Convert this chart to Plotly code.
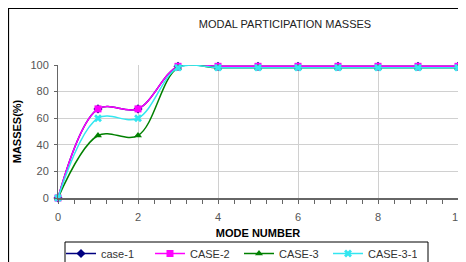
import plotly.graph_objects as go

modes = [0, 1, 2, 3, 4, 5, 6, 7, 8, 9, 10]
case_1 = [0, 67, 67, 99, 99, 99, 99, 99, 99, 99, 99]
case_2 = [0, 67, 67, 99, 99, 99, 99, 99, 99, 99, 99]
case_3 = [0, 47, 47, 98, 98, 98, 98, 98, 98, 98, 98]
case_3_1 = [0, 60, 60, 98, 98, 98, 98, 98, 98, 98, 98]

series = [
    ("case-1", case_1, "#000080", "diamond"),
    ("CASE-2", case_2, "#FF00FF", "square"),
    ("CASE-3", case_3, "#008000", "triangle-up"),
    ("CASE-3-1", case_3_1, "#33E6F0", "x"),
]

fig = go.Figure()
for name, vals, color, sym in series:
    fig.add_trace(go.Scatter(
        x=modes, y=vals, name=name, mode="lines+markers",
        line=dict(color=color, width=1.5, shape="spline", smoothing=1.0),
        marker=dict(symbol=sym, size=7, color=color),
        cliponaxis=False,
    ))

# page body has an 8px margin: figure coordinates = screen - 8
W, H = 458, 254
L, R, T, B = 50, 8, 57, 64
pw, ph = W - L - R, H - T - B

fig.update_layout(
    width=W, height=H,
    margin=dict(l=L, r=R, t=T, b=B, autoexpand=False),
    paper_bgcolor="white", plot_bgcolor="white",
    font=dict(family="Liberation Sans, Arial, sans-serif", size=11, color="#444"),
    title=dict(text="MODAL PARTICIPATION MASSES", x=277 / W, xanchor="center",
               y=1 - 16 / H, yanchor="middle",
               font=dict(size=11, color="#222")),
    xaxis=dict(range=[0, 10], dtick=2, tick0=0, showgrid=True, gridcolor="#d0d0d0",
               zeroline=False, showline=True, linecolor="#666", linewidth=2,
               ticks="outside", ticklen=4, tickcolor="#666", automargin=False,
               ticklabelstandoff=4,
               minor=dict(dtick=0.4, tick0=0, ticks="outside", ticklen=4, tickcolor="#666", showgrid=False),
               title=dict(text="<b>MODE NUMBER</b>", standoff=10, font=dict(size=11, color="#000")),
               tickfont=dict(size=11, color="#555")),
    yaxis=dict(range=[0, 100], dtick=20, showgrid=True, gridcolor="#d0d0d0",
               zeroline=False, showline=True, linecolor="#666", linewidth=1,
               ticks="outside", ticklen=3, tickcolor="#666", automargin=False,
               ticklabelstandoff=3,
               title=dict(text="<b>MASSES(%)</b>", standoff=6, font=dict(size=11, color="#000")),
               tickfont=dict(size=11, color="#555")),
    legend=dict(orientation="h", xref="container", yref="container",
                x=53 / W, xanchor="left",
                y=1 - 231 / H, yanchor="top",
                borderwidth=0, bgcolor="rgba(0,0,0,0)",
                entrywidth=44, entrywidthmode="pixels",
                font=dict(size=11, color="#333"),
                tracegroupgap=0),
    showlegend=True,
)

# outer chart frame
fig.add_shape(type="rect", xref="paper", yref="paper",
              x0=(0.5 - L) / pw, x1=(475 - L) / pw,
              y0=(190 - 275) / ph, y1=(190 - 0.5) / ph,
              line=dict(color="#000", width=1.2), layer="below")
# legend box
fig.add_shape(type="rect", xref="paper", yref="paper",
              x0=(57 - L) / pw, x1=(420 - L) / pw,
              y0=(190 - 265) / ph, y1=(190 - 234) / ph,
              line=dict(color="#000", width=1), fillcolor="white", layer="below")

fig.write_html("out.html")
